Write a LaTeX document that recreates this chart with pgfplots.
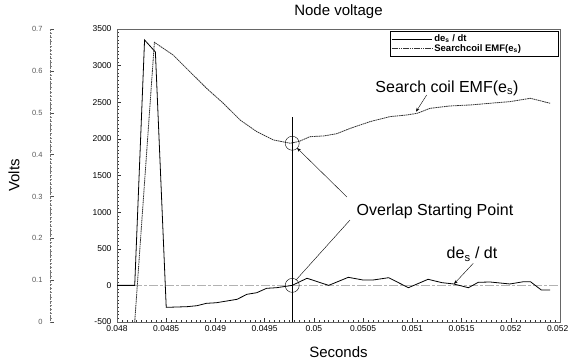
\documentclass[border=0pt]{standalone}
\usepackage{fontspec}
\setmainfont{Liberation Sans}
\usepackage{pgfplots}
\pgfplotsset{compat=1.18}
\usetikzlibrary{arrows.meta}

\begin{document}
\begin{tikzpicture}
\useasboundingbox (0pt,0pt) rectangle (568pt,363pt);
% secondary (Volts) axis
\begin{axis}[
  at={(50pt,41pt)}, anchor=south west, scale only axis,
  width=0.5pt, height=293pt,
  xmin=0, xmax=1, ymin=0, ymax=0.7,
  hide x axis,
  axis y line*=left,
  y axis line style={black!55, densely dotted, -},
  ytick={0,0.1,0.2,0.3,0.4,0.5,0.6,0.7},
  minor y tick num=9,
  tick align=inside,
  major tick length=4pt, minor tick length=2pt,
  y tick style={black!70, thin},
  minor y tick style={black!50, thin},
  yticklabel style={font=\fontsize{7.5}{8}\selectfont, text=black!65, xshift=-4pt,
    /pgf/number format/fixed, /pgf/number format/precision=1},
  /pgf/number format/assume math mode=true,
  ylabel={Volts},
  ylabel style={font=\fontsize{15}{18}\selectfont, at={(axis description cs:-72,0.5)}, anchor=center},
]
\end{axis}
% main axis
\begin{axis}[
  at={(117pt,41pt)}, anchor=south west, scale only axis,
  width=443pt, height=293pt,
  xmin=0.048, xmax=0.0525, ymin=-500, ymax=3500,
  xtick={0.048,0.0485,0.049,0.0495,0.05,0.0505,0.051,0.0515,0.052,0.0525},
  ytick={-500,0,500,1000,1500,2000,2500,3000,3500},
  minor x tick num=9, minor y tick num=9,
  tick align=inside,
  xtick pos=bottom, ytick pos=left,
  major tick length=4pt, minor tick length=2pt,
  tick style={black!80, thin},
  axis line style={black!60, line width=0.7pt},
  scaled x ticks=false, scaled y ticks=false,
  /pgf/number format/assume math mode=true,
  /pgf/number format/1000 sep={},
  xticklabel style={font=\fontsize{8.5}{9}\selectfont, /pgf/number format/fixed, /pgf/number format/precision=4},
  yticklabel style={font=\fontsize{8.5}{9}\selectfont, xshift=-2pt},
  title={Node voltage},
  title style={font=\fontsize{15}{18}\selectfont, at={(axis description cs:0.5,1)}, anchor=center, yshift=11pt},
  xlabel={Seconds},
  xlabel style={font=\fontsize{15}{18}\selectfont, at={(axis description cs:0.5,0)}, anchor=center, yshift=-30pt},
  legend style={at={(axis description cs:0.997,0.993)}, anchor=north east, draw=black, line width=0.5pt,
    font=\fontsize{9.5}{10}\selectfont\bfseries, inner sep=1.5pt, row sep=-2.5pt, fill=white,
    /tikz/every even column/.append style={column sep=8pt}},
  legend cell align=left,
  legend image code/.code={\draw[#1] (0pt,0pt) -- (40pt,0pt);},
]
% zero line
\addplot[gray!60, line width=0.8pt, dash pattern=on 9pt off 2pt on 3pt off 2pt, forget plot]
  coordinates {(0.048,0) (0.0525,0)};
% de_s/dt
\addplot[black, line width=0.8pt] coordinates {
(0.048,0) (0.04818,0) (0.04828,3350) (0.04839,3186) (0.0485,-300)
(0.04871,-291) (0.04881,-278) (0.04891,-245) (0.04901,-237) (0.04922,-190)
(0.04932,-122) (0.04942,-100) (0.04952,-40) (0.04962,-32) (0.04978,0)
(0.04993,97) (0.05015,0) (0.05035,110) (0.0505,73) (0.0506,73) (0.05076,105)
(0.05096,-32) (0.05116,83) (0.0513,37) (0.05142,19) (0.05157,-32) (0.05167,42)
(0.05179,46) (0.05199,19) (0.05213,50) (0.0522,50) (0.05231,-63) (0.0524,-63)
};
\addlegendentry{de\textsubscript{s} / dt\hspace*{34pt}}
% search coil EMF
\addplot[black!80, line width=0.8pt, dash pattern=on 1.6pt off 0.6pt] coordinates {
(0.04818,-500) (0.04838,3318) (0.04857,3145) (0.04874,2917) (0.04891,2690)
(0.04908,2486) (0.04925,2258) (0.04942,2098) (0.04959,1985) (0.04976,1940)
(0.04985,1965) (0.04996,2030) (0.0501,2040) (0.05023,2070) (0.05037,2144)
(0.05057,2235) (0.05077,2303) (0.05094,2326) (0.05105,2349) (0.05118,2417)
(0.05138,2449) (0.05159,2463) (0.05179,2486) (0.05199,2508) (0.0522,2554)
(0.0524,2486)
};
\addlegendentry{Searchcoil EMF(e\textsubscript{s})\hspace*{34pt}}
% vertical marker line
\addplot[black, line width=0.9pt, forget plot] coordinates {(0.04978,-500) (0.04978,2300)};
% circles
\addplot[only marks, mark=o, mark size=7pt, black, thin, forget plot]
  coordinates {(0.04978,1940) (0.04978,0)};
% annotations
\node[font=\fontsize{16}{19}\selectfont] at (axis cs:0.051352,2694) {Search coil EMF(e\textsubscript{s})};
\draw[black, thin, -{Stealth[length=4pt,width=3pt]}] (axis cs:0.051146,2599) -- (axis cs:0.051037,2371);
\node[font=\fontsize{16}{19}\selectfont] at (axis cs:0.05123,1015) {Overlap Starting Point};
\draw[black, thin, -{Stealth[length=4pt,width=3pt]}] (axis cs:0.050336,1206) -- (axis cs:0.049829,1875);
\draw[black, thin] (axis cs:0.050367,892) -- (axis cs:0.049818,73);
\node[font=\fontsize{16}{19}\selectfont] at (axis cs:0.051606,428) {de\textsubscript{s} / dt};
\draw[black, thin, -{Stealth[length=4pt,width=3pt]}] (axis cs:0.051619,301) -- (axis cs:0.051423,19);
\end{axis}
\end{tikzpicture}
\end{document}
